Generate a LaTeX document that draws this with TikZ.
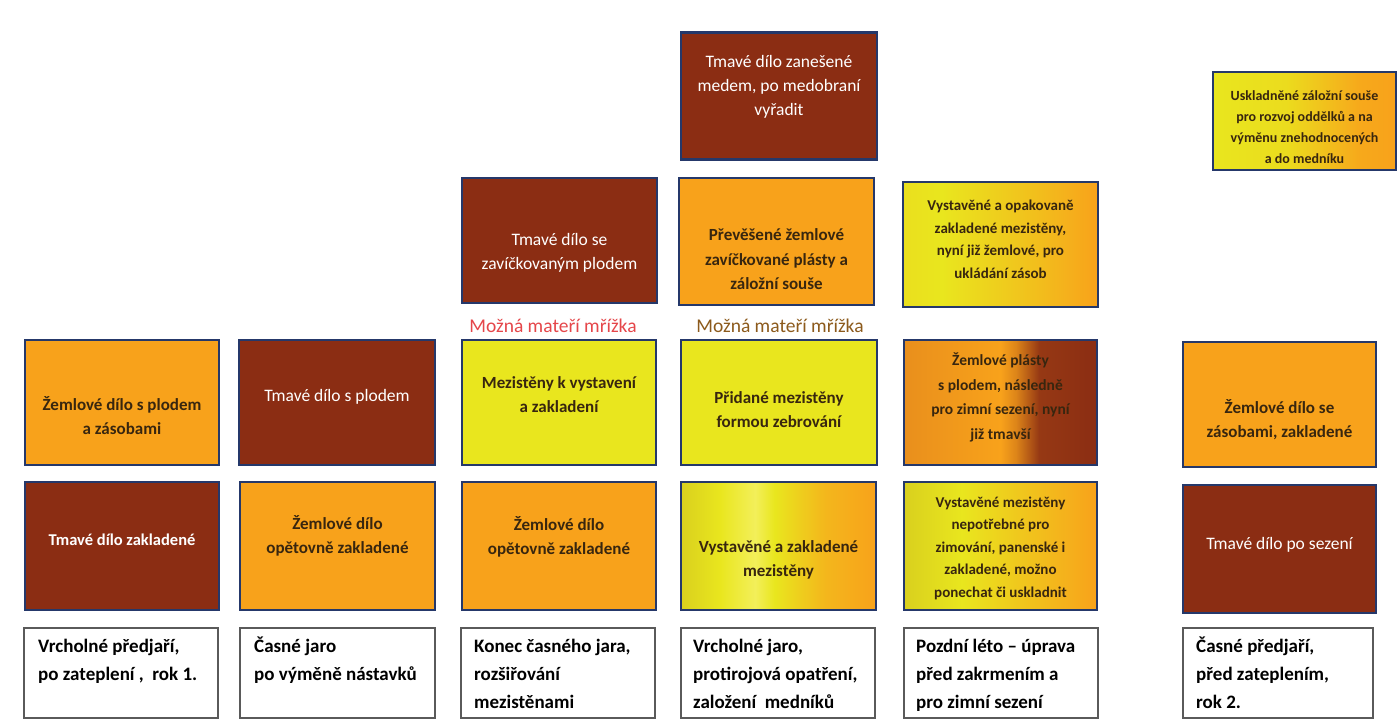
\documentclass[tikz,border=0pt]{standalone}
\usepackage{fontspec}
\setmainfont{Carlito}
\definecolor{dk}{HTML}{8B2D13}
\definecolor{og}{HTML}{F8A21B}
\definecolor{og2}{HTML}{E98F1C}
\definecolor{yl}{HTML}{E9E61E}
\definecolor{ylp}{HTML}{F3EF5A}
\definecolor{ylo}{HTML}{D9D01E}
\definecolor{bd}{HTML}{25386A}
\definecolor{tx}{HTML}{38260F}
\definecolor{lbred}{HTML}{E5464A}
\definecolor{lbbr}{HTML}{8C5A1C}
\definecolor{gb}{HTML}{5A5A5A}
\pgfdeclarehorizontalshading{shA}{100bp}{color(0bp)=(yl); color(25bp)=(yl); color(45bp)=(yl!85!og); color(65bp)=(og!90!yl); color(75bp)=(og); color(100bp)=(og)}
\pgfdeclarehorizontalshading{shB}{100bp}{color(0bp)=(yl!90!og); color(25bp)=(yl!90!og); color(35bp)=(yl); color(60bp)=(yl!40!og); color(75bp)=(og); color(100bp)=(og)}
\pgfdeclarehorizontalshading{shC}{100bp}{color(0bp)=(og2); color(25bp)=(og2); color(50bp)=(og); color(54bp)=(og!75!dk); color(60bp)=(dk!90!og); color(75bp)=(dk); color(100bp)=(dk)}
\pgfdeclarehorizontalshading{shD}{100bp}{color(0bp)=(ylo); color(25bp)=(ylo); color(35bp)=(yl); color(44bp)=(ylp); color(49bp)=(yl); color(62bp)=(og!70!yl); color(75bp)=(og); color(100bp)=(og)}
\pgfdeclarehorizontalshading{shE}{100bp}{color(0bp)=(ylo); color(25bp)=(ylo); color(40bp)=(yl); color(55bp)=(yl!55!og); color(75bp)=(og); color(100bp)=(og)}
\begin{document}
\begin{tikzpicture}[x=1pt,y=-1pt,
  box/.style={draw=bd,line width=2.6pt,inner sep=0pt,minimum width=194pt,minimum height=125pt},
  lbox/.style={draw=gb,line width=1.2pt,inner sep=0pt,minimum width=194pt,minimum height=90pt,fill=white},
  dtxt/.style={align=center,text=tx,inner sep=0pt,font=\fontsize{17}{24.5}\selectfont\bfseries},
  wtxt/.style={align=center,text=white,inner sep=0pt,font=\fontsize{17.5}{24}\selectfont},
  ltxt/.style={align=left,text=black,inner sep=0pt,anchor=north west,font=\fontsize{19}{28}\selectfont\bfseries},
  mtxt/.style={inner sep=0pt,font=\fontsize{19.5}{22}\selectfont}]
\useasboundingbox (0,0) rectangle (1398,720);
\fill[white] (0,0) rectangle (1398,720);
% row 1
\node[box,fill=dk,minimum width=196pt,minimum height=127pt] (b1) at (779,96) {};
\node[wtxt] (b1t) at ([yshift=9pt]b1.center) {Tmavé dílo zanešené\\medem, po medobraní\\vyřadit};
\node[box,shading=shA,minimum width=183pt,minimum height=98pt] (tr) at (1304.5,121) {};
\node[dtxt,font=\fontsize{14}{21}\selectfont\bfseries] (trt) at ([yshift=-6pt]tr.center) {Uskladněné záložní souše\\pro rozvoj oddělků a na\\výměnu znehodnocených\\a do medníku};
% row 2
\node[box,fill=dk,minimum width=195pt] (r2a) at (559.5,240.5) {};
\node[wtxt] (r2at) at ([yshift=-12pt]r2a.center) {Tmavé dílo se\\zavíčkovaným plodem};
\node[box,fill=og,minimum width=195pt,minimum height=127pt] (r2b) at (776.5,241.5) {};
\node[dtxt] (r2bt) at ([yshift=-18pt]r2b.center) {Převěšené žemlové\\zavíčkované plásty a\\záložní souše};
\node[box,shading=shB,minimum width=195pt] (r2c) at (1000.5,244.5) {};
\node[dtxt,font=\fontsize{15}{22.5}\selectfont\bfseries] (r2ct) at ([yshift=5pt]r2c.center) {Vystavěné a opakovaně\\zakladené mezistěny,\\nyní již žemlové, pro\\ukládání zásob};
% labels
\node[mtxt,text=lbred] (m1) at (553,326) {Možná mateří mřížka};
\node[mtxt,text=lbbr] (m2) at (780,326) {Možná mateří mřížka};
% row 3
\node[box,fill=og] (r3a) at (122,402.5) {};
\node[dtxt] (r3at) at ([yshift=-13pt]r3a.center) {Žemlové dílo s plodem\\a zásobami};
\node[box,fill=dk,minimum width=196pt] (r3b) at (337,402.5) {};
\node[wtxt] (r3bt) at ([yshift=6pt]r3b.center) {Tmavé dílo s plodem};
\node[box,fill=yl] (r3c) at (559,402.5) {};
\node[dtxt] (r3ct) at ([yshift=8pt]r3c.center) {Mezistěny k vystavení\\a zakladení};
\node[box,fill=yl,minimum width=196pt] (r3d) at (779,402.5) {};
\node[dtxt] (r3dt) at ([yshift=-7pt]r3d.center) {Přidané mezistěny\\formou zebrování};
\node[box,shading=shC,minimum width=193pt] (r3e) at (1000.5,402.5) {};
\node[dtxt,font=\fontsize{15.5}{24.5}\selectfont\bfseries] (r3et) at ([yshift=5pt]r3e.center) {Žemlové plásty\\s plodem, následně\\pro zimní sezení, nyní\\již tmavší};
\node[box,fill=og,minimum width=193pt] (r3f) at (1279.5,404.5) {};
\node[dtxt] (r3ft) at ([yshift=-15pt]r3f.center) {Žemlové dílo se\\zásobami, zakladené};
% row 4
\node[box,fill=dk,minimum height=128pt] (r4a) at (122,546) {};
\node[wtxt,font=\fontsize{16.5}{24}\selectfont\bfseries] (r4at) at ([yshift=6pt]r4a.center) {Tmavé dílo zakladené};
\node[box,fill=og,minimum width=195pt,minimum height=128pt] (r4b) at (337.5,546) {};
\node[dtxt] (r4bt) at ([yshift=10pt]r4b.center) {Žemlové dílo\\opětovně zakladené};
\node[box,fill=og,minimum height=128pt] (r4c) at (559,546) {};
\node[dtxt] (r4ct) at ([yshift=9pt]r4c.center) {Žemlové dílo\\opětovně zakladené};
\node[box,shading=shD,minimum width=195pt,minimum height=128pt] (r4d) at (778.5,546) {};
\node[dtxt] (r4dt) at ([yshift=-14pt]r4d.center) {Vystavěné a zakladené\\mezistěny};
\node[box,shading=shE,minimum width=193pt,minimum height=128pt] (r4e) at (1000.5,546) {};
\node[dtxt,font=\fontsize{15}{22.5}\selectfont\bfseries] (r4et) at ([yshift=-2pt]r4e.center) {Vystavěné mezistěny\\nepotřebné pro\\zimování, panenské i\\zakladené, možno\\ponechat či uskladnit};
\node[box,fill=dk,minimum width=193pt,minimum height=128pt] (r4f) at (1279.5,549) {};
\node[wtxt] (r4ft) at ([yshift=4pt]r4f.center) {Tmavé dílo po sezení};
% row 5
\node[lbox] (l1) at (121,673) {};
\node[ltxt] (l1t) at (38,637) {\rule{0pt}{15pt}Vrcholné předjaří,\\po zateplení ,\ \ rok 1.};
\node[lbox,minimum width=195pt] (l2) at (337.5,673) {};
\node[ltxt] (l2t) at (254,637) {\rule{0pt}{15pt}Časné jaro\\po výměně nástavků};
\node[lbox] (l3) at (558,673) {};
\node[ltxt] (l3t) at (474,637) {\rule{0pt}{15pt}Konec časného jara,\\rozšiřování\\mezistěnami};
\node[lbox] (l4) at (778,673) {};
\node[ltxt] (l4t) at (693,637) {\rule{0pt}{15pt}Vrcholné jaro,\\protirojová opatření,\\založení\ \ medníků};
\node[lbox] (l5) at (1001,673) {};
\node[ltxt] (l5t) at (916,637) {\rule{0pt}{15pt}Pozdní léto – úprava\\před zakrmením a\\pro zimní sezení};
\node[lbox,minimum width=190pt] (l6) at (1278,673) {};
\node[ltxt] (l6t) at (1196,637) {\rule{0pt}{15pt}Časné předjaří,\\před zateplením,\\rok 2.};
\end{tikzpicture}
\end{document}
